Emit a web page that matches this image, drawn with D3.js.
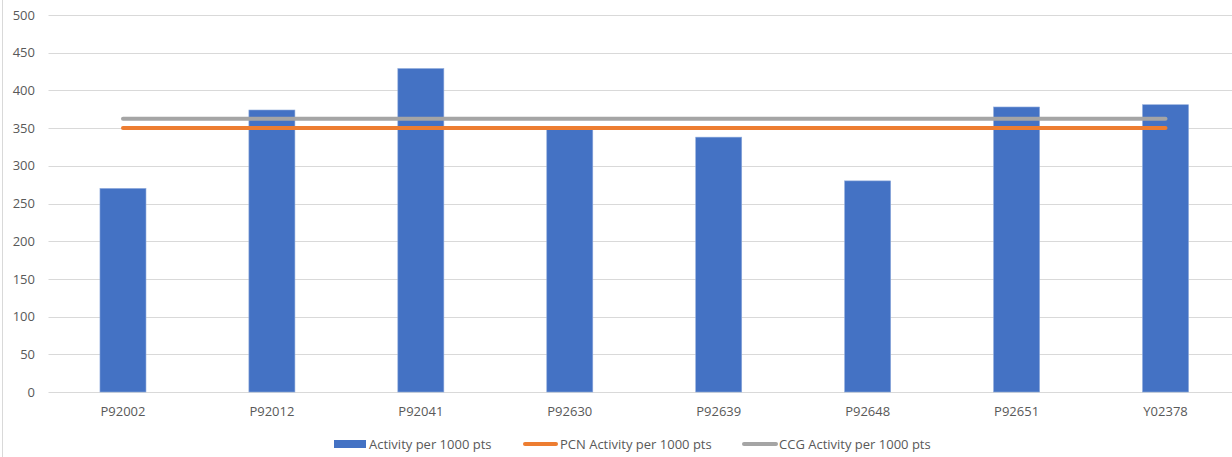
<!DOCTYPE html>
<html>
<head>
<meta charset="utf-8">
<script src="https://cdn.jsdelivr.net/npm/d3@7"></script>
<style>
  html, body { margin: 0; padding: 0; background: #fff; }
  svg { display: block; }
  text { font-family: "Open Sans", "Liberation Sans", sans-serif; fill: #595959; }
</style>
</head>
<body>
<svg id="chart" width="1232" height="457"></svg>
<script>
// ---- data ----
const categories = ["P92002", "P92012", "P92041", "P92630", "P92639", "P92648", "P92651", "Y02378"];
const activity = [270, 374, 429, 348, 338, 280, 378, 381];
const pcnValue = 350;
const ccgValue = 362.5;
const yTicks = [0, 50, 100, 150, 200, 250, 300, 350, 400, 450, 500];
const seriesNames = ["Activity per 1000 pts", "PCN Activity per 1000 pts", "CCG Activity per 1000 pts"];
const colors = ["#4472C4", "#ED7D31", "#A5A5A5"];

// ---- chart ----
const svg = d3.select("#chart");
const W = 1232, H = 457;

const x = d3.scaleBand().domain(categories).range([48.5, 1240]).paddingInner(0.691).paddingOuter(0.3455);
const y = d3.scaleLinear().domain([0, 500]).range([392, 15]);

// left border of the chart area
svg.append("line").attr("x1", 2.5).attr("x2", 2.5).attr("y1", 0).attr("y2", H)
  .attr("stroke", "#d9d9d9").attr("stroke-width", 1);

// gridlines
svg.append("g").selectAll("line").data(yTicks).join("line")
  .attr("x1", 48.5).attr("x2", W)
  .attr("y1", d => Math.round(y(d)) + 0.5).attr("y2", d => Math.round(y(d)) + 0.5)
  .attr("stroke", "#d9d9d9").attr("stroke-width", 1);

// y axis labels
const yAxis = d3.axisLeft(y).tickValues(yTicks).tickSize(0).tickPadding(0);
const gy = svg.append("g").attr("transform", "translate(35,0)").call(yAxis);
gy.select(".domain").remove();
gy.selectAll("text").attr("font-size", "13px").style("font-family", "'Open Sans', sans-serif").attr("fill", "#595959");

// x axis labels
const xAxis = d3.axisBottom(x).tickSize(0).tickPadding(0);
const gx = svg.append("g").attr("transform", "translate(0,392)").call(xAxis);
gx.select(".domain").remove();
gx.selectAll("text").attr("font-size", "13px").attr("dy", null).attr("y", 24)
  .style("font-family", "'Open Sans', sans-serif").attr("fill", "#595959");

// bars
svg.append("g").selectAll("rect").data(categories).join("rect")
  .attr("x", d => x(d))
  .attr("width", x.bandwidth())
  .attr("y", (d, i) => y(activity[i]))
  .attr("height", (d, i) => y(0) - y(activity[i]))
  .attr("fill", colors[0])
  .attr("stroke", "#8eaadb").attr("stroke-width", 0.6);

// horizontal reference lines
const first = categories[0], last = categories[categories.length - 1];
const line = d3.line().x(d => d[0]).y(d => d[1]);
[[ccgValue, colors[2]], [pcnValue, colors[1]]].forEach(([v, c]) => {
  svg.append("path")
    .attr("d", line([[x(first) + x.bandwidth() / 2, y(v)], [x(last) + x.bandwidth() / 2, y(v)]]))
    .attr("stroke", c).attr("stroke-width", 4).attr("stroke-linecap", "round").attr("fill", "none");
});

// legend
const legendY = 444;
const legendItems = [
  { name: seriesNames[0], type: "rect", x0: 334, x1: 366, tx: 369 },
  { name: seriesNames[1], type: "line", x0: 525, x1: 556, tx: 560 },
  { name: seriesNames[2], type: "line", x0: 744, x1: 776, tx: 779 }
];
const lg = svg.append("g");
legendItems.forEach((it, i) => {
  if (it.type === "rect") {
    lg.append("rect").attr("x", it.x0).attr("y", legendY - 4).attr("width", it.x1 - it.x0).attr("height", 8)
      .attr("fill", colors[i]);
  } else {
    lg.append("line").attr("x1", it.x0).attr("x2", it.x1).attr("y1", legendY).attr("y2", legendY)
      .attr("stroke", colors[i]).attr("stroke-width", 4).attr("stroke-linecap", "round");
  }
  lg.append("text").attr("x", it.tx).attr("y", legendY + 4.5).attr("font-size", "13px").text(it.name);
});
</script>
</body>
</html>
